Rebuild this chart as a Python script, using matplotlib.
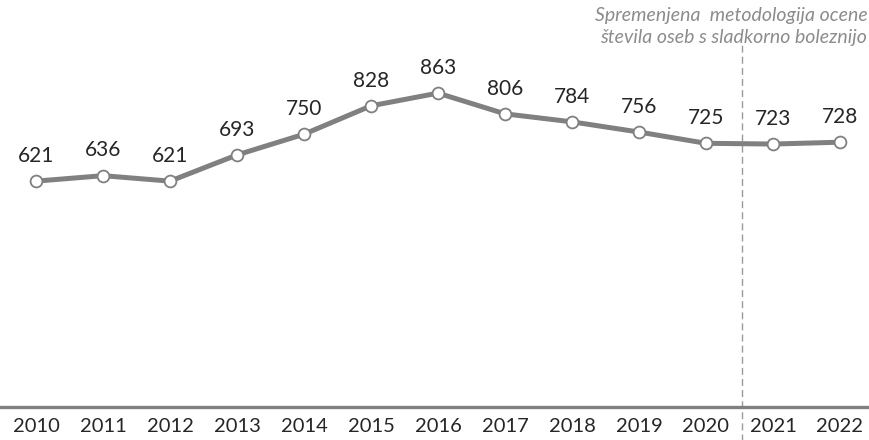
import matplotlib
matplotlib.use("Agg")
import matplotlib.pyplot as plt

years = [2010, 2011, 2012, 2013, 2014, 2015, 2016, 2017, 2018, 2019, 2020, 2021, 2022]
values = [621, 636, 621, 693, 750, 828, 863, 806, 784, 756, 725, 723, 728]
tick_labels = [str(y) for y in years]
note = "Spremenjena  metodologija ocene\nštevila oseb s sladkorno boleznijo"
break_x = 2020.54

plt.rcParams['font.family'] = ['Lato', 'DejaVu Sans']

fig = plt.figure(figsize=(8.7, 4.4), dpi=100)
ax = fig.add_axes([0, 1 - 407 / 440, 1, 407 / 440])
ax.set_xlim(2010 - 36 / 67, 2022 + 30 / 67)
ax.set_ylim(0, 1119)

ax.plot(years, values, color='#808080', lw=3.6, marker='o', markersize=8.5,
        markerfacecolor='white', markeredgecolor='#808080', markeredgewidth=1.3,
        zorder=3, solid_capstyle='round')
for x, v in zip(years, values):
    ax.annotate(str(v), (x, v), xytext=(0, 11), textcoords='offset points',
                ha='center', va='bottom', fontsize=15, color='#262626')

ax.plot([break_x, break_x], [-95, 995], color='#9a9a9a', lw=1, ls=(0, (5, 3)),
        clip_on=False, zorder=1)
ax.axhline(0, color='#808080', lw=2.4, clip_on=False, zorder=2)

ax.text(0.997, 0.985, note, transform=fig.transFigure, ha='right', va='top',
        fontsize=14, style='italic', color='#8c8c8c', linespacing=1.35)

ax.set_xticks(years)
ax.set_xticklabels(tick_labels, fontsize=14.5, color='#262626')
ax.tick_params(axis='x', length=0, pad=8)
ax.set_yticks([])
for s in ax.spines.values():
    s.set_visible(False)
ax.patch.set_alpha(0)

fig.savefig('out.png', dpi=100)
